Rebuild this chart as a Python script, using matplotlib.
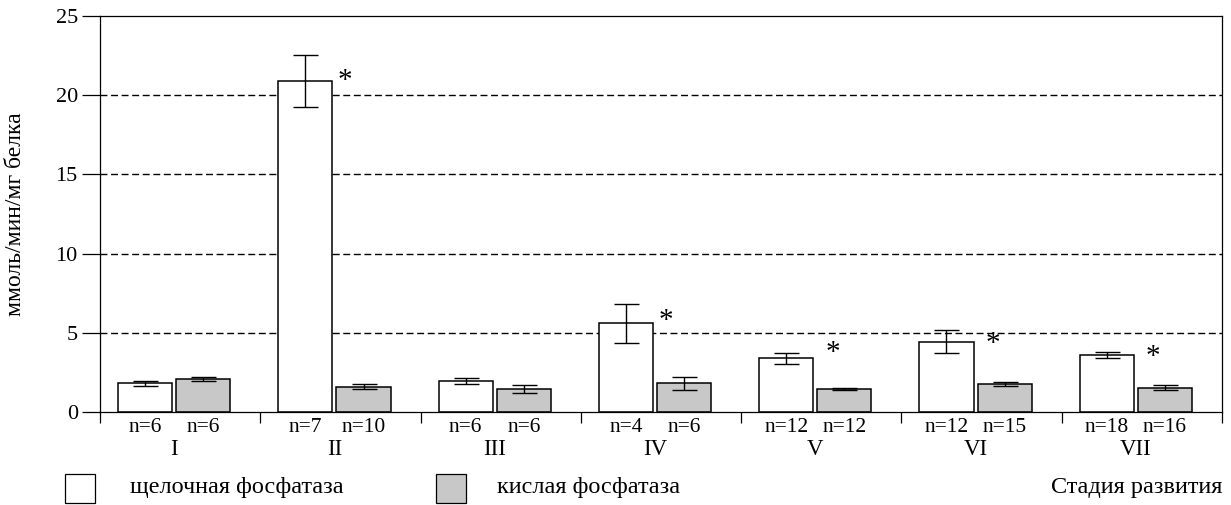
import numpy as np
import matplotlib
matplotlib.use('Agg')
import matplotlib.pyplot as plt
from matplotlib.patches import Rectangle

# Daten

stages = ["I", "II", "III", "IV", "V", "VI", "VII"]

alk = [1.8, 20.9, 1.95, 5.6, 3.4, 4.45, 3.6]          # щелочная фосфатаза
alk_err = [0.15, 1.63, 0.17, 1.22, 0.35, 0.75, 0.18]
acid = [2.1, 1.6, 1.45, 1.8, 1.45, 1.78, 1.53]        # кислая фосфатаза
acid_err = [0.13, 0.15, 0.26, 0.4, 0.08, 0.12, 0.15]

n_alk = ["n=6", "n=7", "n=6", "n=4", "n=12", "n=12", "n=18"]
n_acid = ["n=6", "n=10", "n=6", "n=6", "n=12", "n=15", "n=16"]

star_stage = [1, 3, 4, 5, 6]          # Index der Stadie mit *
star_y = [20.9, 5.75, 3.75, 4.3, 3.5]

yticks = [0, 5, 10, 15, 20, 25]

# Einstellungen

gray = "#c8c8c8"
bar_w = 0.3375
off_alk = 0.281
off_acid = 0.644

plt.rcParams['font.family'] = ['Liberation Serif', 'DejaVu Serif']

fig = plt.figure(figsize=(12.31, 5.05), dpi=100)
ax = fig.add_axes([100/1231, 93/505, 1122/1231, 396/505])

x = np.arange(len(stages))

ax.bar(x + off_alk, alk, width=bar_w, color="white", edgecolor="black", linewidth=1.1, zorder=2)
ax.bar(x + off_acid, acid, width=bar_w, color=gray, edgecolor="black", linewidth=1.1, zorder=2)
ax.errorbar(x + off_alk, alk, yerr=alk_err, fmt="none", ecolor="black", elinewidth=1,
            capsize=9, capthick=1, zorder=3)
ax.errorbar(x + off_acid, acid, yerr=acid_err, fmt="none", ecolor="black", elinewidth=1,
            capsize=9, capthick=1, zorder=3)

for s, yv in zip(star_stage, star_y):
    xs = s + (0.53 if s < 4 else 0.57)
    ax.text(xs, yv, "*", fontsize=21, ha="center", va="center", zorder=4)

for yv in yticks[1:-1]:
    ax.axhline(yv, color="black", linewidth=1.0, linestyle=(0, (5, 2.6)), zorder=1)

ax.set_xlim(0, len(stages))
ax.set_ylim(0, 25)
ax.set_yticks(yticks)
ax.tick_params(axis='y', direction='out', length=13, width=0.9, labelsize=16, pad=3)
ax.set_xticks(np.arange(len(stages) + 1))
ax.set_xticklabels([])
ax.tick_params(axis='x', direction='out', length=8, width=0.9)
for sp in ax.spines.values():
    sp.set_linewidth(0.9)

tr = ax.get_xaxis_transform()
for i in range(len(stages)):
    ax.text(i + off_alk, -0.04, n_alk[i], transform=tr, ha="center", va="center", fontsize=15.5)
    ax.text(i + off_acid, -0.04, n_acid[i], transform=tr, ha="center", va="center", fontsize=15.5)
    ax.text(i + 0.462, -0.095, stages[i], transform=tr, ha="center", va="center", fontsize=16.5)

ax.set_ylabel("ммоль/мин/мг белка", fontsize=17)
ax.yaxis.set_label_coords(-0.066, 0.5)

# Legende
fig.patches.append(Rectangle((65/1231, 2/505), 30/1231, 29/505, transform=fig.transFigure,
                             facecolor="white", edgecolor="black", linewidth=0.9))
fig.patches.append(Rectangle((436/1231, 2/505), 30/1231, 29/505, transform=fig.transFigure,
                             facecolor=gray, edgecolor="black", linewidth=0.9))
fig.text(130/1231, 18/505, "щелочная фосфатаза", fontsize=17.5, va="center", ha="left")
fig.text(497/1231, 18/505, "кислая фосфатаза", fontsize=17.5, va="center", ha="left")
fig.text(1222/1231, 18/505, "Стадия развития", fontsize=17.5, va="center", ha="right")

fig.savefig("out.png", dpi=100)
